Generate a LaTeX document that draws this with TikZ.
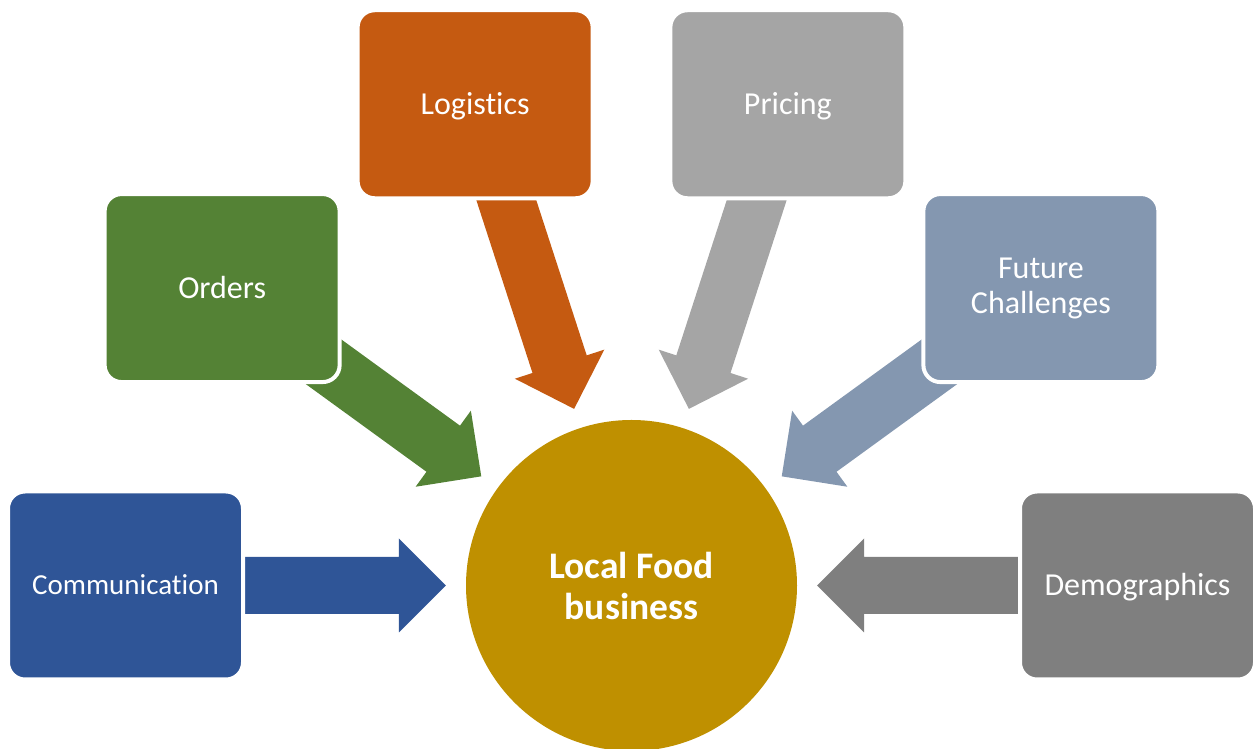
\documentclass[tikz,border=0pt]{standalone}
\usepackage{fontspec}
\setmainfont{Carlito}[Ligatures=NoCommon]
\usetikzlibrary{calc}

\pgfdeclarelayer{arrowlayer}
\pgfsetlayers{arrowlayer,main}

\definecolor{hubgold}{HTML}{BF9000}
\definecolor{commblue}{HTML}{2F5597}
\definecolor{ordgreen}{HTML}{548235}
\definecolor{logorange}{HTML}{C55A11}
\definecolor{pricegray}{HTML}{A5A5A5}
\definecolor{futureblue}{HTML}{8497B0}
\definecolor{demogray}{HTML}{7F7F7F}

\tikzset{
  topic/.style={rectangle, rounded corners=17pt, draw=white, line width=4pt,
    minimum width=235pt, minimum height=188pt, inner sep=0pt,
    text=white, align=center, font=\fontsize{32}{35}\selectfont},
  oneline/.style={text height=20.6pt, text depth=0pt},
  smalltext/.style={font=\fontsize{29}{35}\selectfont, text height=18.7pt},
  hub/.style={circle, fill=hubgold, minimum size=331pt, inner sep=0pt,
    text=white, align=center, font=\fontsize{37.5}{41}\selectfont\bfseries},
}

% Block arrow pointing from a topic box (#1) towards the hub (#2), colour #3.
% Tip 185.7 from the hub centre, head 47 long and 94 wide, shaft 57 wide.
\newcommand\convarrow[3]{%
  \fill[#3]
    ($(#2.center)!185.7pt!(#1.center)$)
    -- ($(#2.center)!232.7pt!(#1.center)!47pt!90:(#1.center)$)
    -- ($(#2.center)!232.7pt!(#1.center)!28.5pt!90:(#1.center)$)
    -- ($(#2.center)!420pt!(#1.center)!28.5pt!90:(#1.center)$)
    -- ($(#2.center)!420pt!(#1.center)!28.5pt!-90:(#1.center)$)
    -- ($(#2.center)!232.7pt!(#1.center)!28.5pt!-90:(#1.center)$)
    -- ($(#2.center)!232.7pt!(#1.center)!47pt!-90:(#1.center)$)
    -- cycle;}

\begin{document}
\begin{tikzpicture}[x=1pt, y=1pt]
  \useasboundingbox (0,0) rectangle (1259,749);

  % central hub
  \coordinate (hubc) at (631.5,163.5);
  \node[hub] (hub) at (hubc) {Local Food\\business};

  % surrounding topics, on a circle of radius 506 around the hub
  \node[topic, oneline, smalltext, fill=commblue] (comm) at ($(hubc)+(180:506)$) {Communication};
  \node[topic, oneline, fill=ordgreen]   (orders) at ($(hubc)+(144:506)$) {Orders};
  \node[topic, oneline, fill=logorange]  (logi)   at ($(hubc)+(108:506)$) {Logistics};
  \node[topic, oneline, fill=pricegray]  (price)  at ($(hubc)+(72:506)$)  {Pricing};
  \node[topic, fill=futureblue]          (future) at ($(hubc)+(36:506)$)  {Future\\Challenges};
  \node[topic, oneline, fill=demogray]   (demo)   at ($(hubc)+(0:506)$)   {Demographics};

  % converging arrows, drawn beneath the boxes
  \begin{pgfonlayer}{arrowlayer}
    \convarrow{comm}{hub}{commblue}
    \convarrow{orders}{hub}{ordgreen}
    \convarrow{logi}{hub}{logorange}
    \convarrow{price}{hub}{pricegray}
    \convarrow{future}{hub}{futureblue}
    \convarrow{demo}{hub}{demogray}
  \end{pgfonlayer}
\end{tikzpicture}
\end{document}
